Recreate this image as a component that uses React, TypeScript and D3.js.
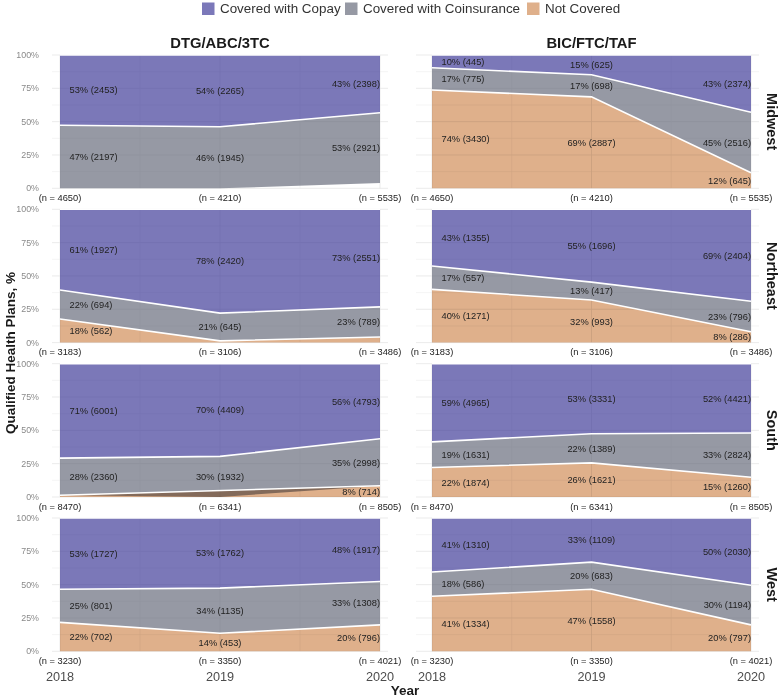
import React from "react";
import * as d3 from "d3";

// ---------- data ----------
const YEARS = [2018, 2019, 2020];
const REGIONS = ["Midwest", "Northeast", "South", "West"];
const DRUGS = ["DTG/ABC/3TC", "BIC/FTC/TAF"];
const CATEGORIES = ["Covered with Copay", "Covered with Coinsurance", "Not Covered"];
const Y_TICKS = [0, 0.25, 0.5, 0.75, 1];
const Y_TICK_LABELS = ["0%", "25%", "50%", "75%", "100%"];
const Y_MINOR = [0.125, 0.375, 0.625, 0.875];
const X_MINOR = [2018.5, 2019.5];

// number of plans by region (rows) and year (columns)
const N_PLANS = [
  [4650, 4210, 5535],
  [3183, 3106, 3486],
  [8470, 6341, 8505],
  [3230, 3350, 4021],
];

const DTG_COPAY = [
  [2453, 2265, 2398],
  [1927, 2420, 2551],
  [6001, 4409, 4793],
  [1727, 1762, 1917],
];
const DTG_COINS = [
  [2197, 1945, 2921],
  [694, 645, 789],
  [2360, 1932, 2998],
  [801, 1135, 1308],
];
const DTG_NOTCOV: (number | null)[][] = [
  [null, null, 216],
  [562, 41, 146],
  [109, null, 714],
  [702, 453, 796],
];
const BIC_COPAY = [
  [445, 625, 2374],
  [1355, 1696, 2404],
  [4965, 3331, 4421],
  [1310, 1109, 2030],
];
const BIC_COINS = [
  [775, 698, 2516],
  [557, 417, 796],
  [1631, 1389, 2824],
  [586, 683, 1194],
];
const BIC_NOTCOV: (number | null)[][] = [
  [3430, 2887, 645],
  [1271, 993, 286],
  [1874, 1621, 1260],
  [1334, 1558, 797],
];

// ---------- styling / layout ----------
const W = 784;
const H = 697;
const FONT = "'Liberation Sans', Arial, Helvetica, sans-serif";
const FILL_COLORS = ["rgb(52,47,146)", "rgb(93,98,115)"];
const ORANGE = "#dfb08b";
const KEY_COLORS = ["#7b78b9", "#9699a4", "#dfb08b"];
const FILL_ALPHA = 0.65;
const COLS = [
  { x0: 60, x1: 380, g0: 52, g1: 388 },
  { x0: 432, x1: 751, g0: 416, g1: 759 },
];
const ROW_TOP = [55, 209.3, 363.7, 518];
const PANEL_H = 133.3;

type Row = {
  yr: number;
  nc: number | null;
  ncP: number;
  g0: number;
  g1: number;
  p0: number;
  p1: number;
};

function Panel({ d, r }: { d: number; r: number }) {
  const col = COLS[d];
  const top = ROW_TOP[r];
  const x = d3.scaleLinear().domain([2018, 2020]).range([col.x0, col.x1]);
  const y = d3.scaleLinear().domain([0, 1]).range([top + PANEL_H, top]);
  const n = N_PLANS[r];
  const copay = (d === 0 ? DTG_COPAY : BIC_COPAY)[r];
  const coins = (d === 0 ? DTG_COINS : BIC_COINS)[r];
  const notcov = (d === 0 ? DTG_NOTCOV : BIC_NOTCOV)[r];

  const rows: Row[] = YEARS.map((yr, i) => {
    const nc = notcov[i];
    const ncP = nc == null ? 0 : nc / n[i];
    const coP = coins[i] / n[i];
    const cpP = copay[i] / n[i];
    return { yr, nc, ncP, g0: ncP, g1: ncP + coP, p0: ncP + coP, p1: ncP + coP + cpP };
  });
  const ncRows = rows.filter((row) => row.nc != null);

  const purpleArea = d3.area<Row>().x((q) => x(q.yr)).y0((q) => y(q.p0)).y1((q) => y(q.p1));
  const purpleLine = d3.line<Row>().x((q) => x(q.yr)).y((q) => y(q.p1));
  const grayArea = d3.area<Row>().x((q) => x(q.yr)).y0((q) => y(q.g0)).y1((q) => y(q.g1));
  const grayLine = d3.line<Row>().x((q) => x(q.yr)).y((q) => y(q.g1));
  const orangeArea = d3.area<Row>().x((q) => x(q.yr)).y0(() => y(0)).y1((q) => y(q.ncP));
  const orangeLine = d3.line<Row>().x((q) => x(q.yr)).y((q) => y(q.ncP));

  const labels: { x: number; y: number; anchor: string; text: string }[] = [];
  rows.forEach((row, i) => {
    const lx = i === 0 ? x(row.yr) + 9.5 : x(row.yr);
    const anchor = i === 0 ? "start" : i === 1 ? "middle" : "end";
    const items = [
      { v: copay[i], lo: row.p0, hi: row.p1 },
      { v: coins[i], lo: row.g0, hi: row.g1 },
      { v: row.nc, lo: 0, hi: row.ncP },
    ];
    items.forEach((it) => {
      if (it.v == null) return;
      const p = it.v / n[i];
      if (p < 0.05) return;
      labels.push({
        x: lx,
        y: y((it.lo + it.hi) / 2),
        anchor,
        text: `${Math.round(p * 100)}% (${it.v})`,
      });
    });
  });

  return (
    <g>
      {/* grid */}
      {Y_MINOR.map((t) => (
        <line key={"ym" + t} x1={col.g0} x2={col.g1} y1={y(t)} y2={y(t)} stroke="#efefef" strokeWidth={0.6} />
      ))}
      {Y_TICKS.map((t) => (
        <line key={"y" + t} x1={col.g0} x2={col.g1} y1={y(t)} y2={y(t)} stroke="#e6e6e6" strokeWidth={0.8} />
      ))}
      {X_MINOR.map((t) => (
        <line key={"xm" + t} x1={x(t)} x2={x(t)} y1={y(0)} y2={y(1)} stroke="#efefef" strokeWidth={0.6} />
      ))}
      {YEARS.map((t) => (
        <line key={"x" + t} x1={x(t)} x2={x(t)} y1={y(0)} y2={y(1)} stroke="#e6e6e6" strokeWidth={0.8} />
      ))}
      {/* areas */}
      <path d={purpleArea(rows) || ""} fill={FILL_COLORS[0]} fillOpacity={FILL_ALPHA} />
      <path d={purpleLine(rows) || ""} fill="none" stroke="#fff" strokeWidth={1.6} />
      <path d={grayArea(rows) || ""} fill={FILL_COLORS[1]} fillOpacity={FILL_ALPHA} />
      <path d={grayLine(rows) || ""} fill="none" stroke="#fff" strokeWidth={1.6} />
      {ncRows.length >= 2 && (
        <>
          <path d={orangeArea(ncRows) || ""} fill={ORANGE} style={{ mixBlendMode: "multiply" }} />
          <path d={orangeLine(ncRows) || ""} fill="none" stroke="#fff" strokeWidth={1.6} />
        </>
      )}
      {/* value labels */}
      {labels.map((l, k) => (
        <text key={k} x={l.x} y={l.y} dy="0.35em" textAnchor={l.anchor as any} fontSize={9.3} fill="#222" fontFamily={FONT}>
          {l.text}
        </text>
      ))}
      {/* n labels */}
      {YEARS.map((yr, i) => (
        <text key={"n" + yr} x={x(yr)} y={y(0) + 9.5} dy="0.35em" textAnchor="middle" fontSize={9.3} fill="#222" fontFamily={FONT}>
          {`(n = ${n[i]})`}
        </text>
      ))}
      {/* y tick labels for left column */}
      {d === 0 &&
        Y_TICKS.map((t, k) => (
          <text key={"yl" + t} x={39} y={y(t)} dy="0.35em" textAnchor="end" fontSize={8.9} fill="#8a8a8a" fontFamily={FONT}>
            {Y_TICK_LABELS[k]}
          </text>
        ))}
      {/* strip label on right */}
      {d === 1 && (
        <text
          transform={`translate(772, ${top + PANEL_H / 2}) rotate(90)`}
          textAnchor="middle"
          dy="0.35em"
          fontSize={14.5}
          fontWeight="bold"
          fill="#1a1a1a"
          fontFamily={FONT}
        >
          {REGIONS[r]}
        </text>
      )}
      {/* column title */}
      {r === 0 && (
        <text x={(col.x0 + col.x1) / 2} y={48} textAnchor="middle" fontSize={14.8} fontWeight="bold" fill="#1a1a1a" fontFamily={FONT}>
          {DRUGS[d]}
        </text>
      )}
      {/* year axis labels */}
      {r === REGIONS.length - 1 &&
        YEARS.map((yr) => (
          <text key={"yr" + yr} x={x(yr)} y={677} dy="0.35em" textAnchor="middle" fontSize={12.7} fill="#4d4d4d" fontFamily={FONT}>
            {yr}
          </text>
        ))}
    </g>
  );
}

const LEGEND_KEYS_X = [202, 345, 527];

export default function App() {
  return (
    <svg width={W} height={H} style={{ display: "block", position: "absolute", left: 0, top: 0, background: "#fff" }}>
      <rect width={W} height={H} fill="#fff" />
      {/* legend */}
      {CATEGORIES.map((c, i) => (
        <g key={c}>
          <rect x={LEGEND_KEYS_X[i]} y={2.5} width={12.5} height={12.5} fill={KEY_COLORS[i]} />
          <text x={LEGEND_KEYS_X[i] + 18} y={8.8} dy="0.35em" fontSize={13.4} fill="#333" fontFamily={FONT}>
            {c}
          </text>
        </g>
      ))}
      {REGIONS.map((_, r) => DRUGS.map((__, d) => <Panel key={r + "-" + d} d={d} r={r} />))}
      {/* axis titles */}
      <text x={405} y={690} dy="0.35em" textAnchor="middle" fontSize={13.5} fontWeight="bold" fill="#1a1a1a" fontFamily={FONT}>
        Year
      </text>
      <text
        transform={`translate(10, 353) rotate(-90)`}
        textAnchor="middle"
        dy="0.35em"
        fontSize={13.5}
        fontWeight="bold"
        fill="#1a1a1a"
        fontFamily={FONT}
      >
        Qualified Health Plans, %
      </text>
    </svg>
  );
}
